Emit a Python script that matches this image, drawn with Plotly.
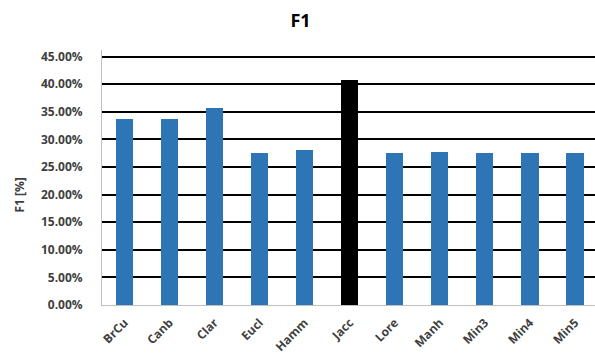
import plotly.graph_objects as go

# F1 score per distance measure
measures = ["BrCu", "Canb", "Clar", "Eucl", "Hamm", "Jacc", "Lore", "Manh", "Min3", "Min4", "Min5"]
f1_scores = [0.3375, 0.3375, 0.3575, 0.276, 0.280, 0.408, 0.275, 0.278, 0.275, 0.275, 0.275]
highlight = "Jacc"

y_ticks = [round(i * 0.05, 2) for i in range(10)]
y_tick_text = [f"{v * 100:.2f}%" for v in y_ticks]

BLUE = "#2E75B6"
BLACK = "#000000"
TEXT = "#404040"
FONT = "Open Sans"

bar_colors = [BLACK if m == highlight else BLUE for m in measures]

fig = go.Figure(
    go.Bar(
        x=measures,
        y=f1_scores,
        marker=dict(color=bar_colors, line=dict(width=0)),
        width=0.38,
    )
)

fig.update_layout(
    width=595,
    height=356,
    margin=dict(l=102, r=0, t=50, b=51),
    paper_bgcolor="white",
    plot_bgcolor="white",
    showlegend=False,
    bargap=0,
    title=dict(
        text="F1",
        x=0.505,
        xanchor="center",
        y=1 - 21 / 356,
        yanchor="middle",
        font=dict(family=FONT, size=18, color=BLACK, weight="bold"),
    ),
    font=dict(family=FONT, color=TEXT),
)

# value-axis title, sitting a little below the axis midpoint
fig.add_annotation(
    text="F1 [%]",
    xref="paper",
    yref="paper",
    x=-0.168,
    y=0.43,
    xanchor="center",
    yanchor="middle",
    textangle=-90,
    showarrow=False,
    font=dict(family=FONT, size=12, color=TEXT, weight="bold"),
)

fig.update_xaxes(
    type="category",
    range=[-0.5, 10.444],
    tickangle=-45,
    tickfont=dict(family=FONT, size=12, color=TEXT, weight="bold"),
    ticks="outside",
    ticklen=5,
    tickcolor="rgba(0,0,0,0)",
    showgrid=False,
    showline=True,
    linecolor="#BFBFBF",
    linewidth=1,
    zeroline=False,
    automargin=False,
)

fig.update_yaxes(
    range=[0, 0.462],
    tickmode="array",
    tickvals=y_ticks,
    ticktext=y_tick_text,
    tickfont=dict(family=FONT, size=12, color=TEXT, weight="bold"),
    ticks="outside",
    ticklen=16,
    tickcolor="rgba(0,0,0,0)",
    showgrid=True,
    gridcolor=BLACK,
    gridwidth=2,
    showline=True,
    linecolor="#BFBFBF",
    linewidth=1,
    zeroline=False,
    automargin=False,
)

fig.write_html("out.html")
